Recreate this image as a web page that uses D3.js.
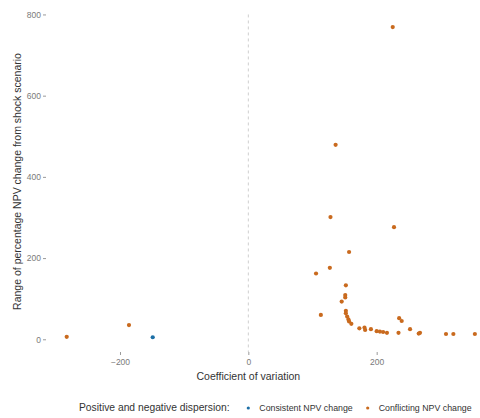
<!DOCTYPE html>
<html>
<head>
<meta charset="utf-8">
<script src="https://cdn.jsdelivr.net/npm/d3@7"></script>
<style>
  body { margin: 0; background: #fff; }
  text { font-family: "Liberation Sans", Arial, sans-serif; }
</style>
</head>
<body>
<svg id="chart" width="480" height="418"></svg>
<script>
// coefficient of variation / range of % NPV change, by group
const consistentCV = [-149];
const consistentRange = [5];

const conflictingCV = [-283, -186, 225, 136, 128, 227, 157, 127, 105.5, 152, 151, 151, 145.5,
  113, 152, 152, 154, 156, 157, 160.5, 173, 181, 182, 191, 200, 205, 210, 216,
  235, 239, 234, 252, 267.5, 265.5, 308, 319.5, 353];
const conflictingRange = [6, 35, 769, 479, 301, 276, 215, 176, 162, 133, 109, 103, 93,
  60, 70, 64, 56, 49, 44, 38, 27, 29, 23, 25, 20, 19, 18, 16,
  52, 45, 16, 25, 16, 14, 13, 13, 13];

const xTicks = [-200, 0, 200];
const yTicks = [0, 200, 400, 600, 800];

const groups = ["Consistent NPV change", "Conflicting NPV change"];
const colors = ["#1c6fa6", "#c96a1e"];

const points = consistentCV.map((d, i) => ({ cv: d, range: consistentRange[i], group: groups[0] }))
  .concat(conflictingCV.map((d, i) => ({ cv: d, range: conflictingRange[i], group: groups[1] })));

var svg = d3.select("#chart"),
    margin = {top: 11, right: 0, bottom: 66, left: 46},
    width = +svg.attr("width") - margin.left - margin.right,
    height = +svg.attr("height") - margin.top - margin.bottom;

var g = svg.append("g")
  .attr("transform", "translate(" + margin.left + "," + margin.top + ")");

var x = d3.scaleLinear().domain([-315.3, 361]).range([0, width]);
var y = d3.scaleLinear().domain([-31.3, 808.5]).range([height, 0]);
var color = d3.scaleOrdinal().domain(groups).range(colors);

// dashed reference line at 0
g.append("line")
  .attr("x1", x(0)).attr("x2", x(0))
  .attr("y1", y(800)).attr("y2", height)
  .attr("stroke", "#cfcfcf")
  .attr("stroke-dasharray", "3,3");

// axes
var xAxis = g.append("g")
  .attr("transform", "translate(0," + height + ")")
  .call(d3.axisBottom(x).tickValues(xTicks).tickSize(3).tickPadding(4));
var yAxis = g.append("g")
  .call(d3.axisLeft(y).tickValues(yTicks).tickSize(3).tickPadding(2));

[xAxis, yAxis].forEach(a => {
  a.select(".domain").remove();
  a.selectAll("line").attr("stroke", "#9a9a9a");
  a.selectAll("text").attr("fill", "#7a7a7a").attr("font-size", 8.5);
});

// points
g.selectAll("circle")
  .data(points)
  .enter()
  .append("circle")
  .attr("cx", d => x(d.cv))
  .attr("cy", d => y(d.range))
  .attr("r", 2.1)
  .attr("fill", d => color(d.group));

// axis titles
svg.append("text")
  .attr("x", margin.left + x(0))
  .attr("y", 380)
  .attr("text-anchor", "middle")
  .attr("font-size", 10.5)
  .attr("fill", "#333")
  .text("Coefficient of variation");

svg.append("text")
  .attr("transform", "translate(21," + (margin.top + height / 2) + ") rotate(-90)")
  .attr("text-anchor", "middle")
  .attr("font-size", 10.5)
  .attr("fill", "#333")
  .text("Range of percentage NPV change from shock scenario");

// legend
var legend = svg.append("g").attr("transform", "translate(0,411)");
legend.append("text")
  .attr("x", 79)
  .attr("font-size", 10.3)
  .attr("fill", "#333")
  .text("Positive and negative dispersion:");

var keyX = [248.3, 367.7];
groups.forEach((grp, i) => {
  legend.append("circle")
    .attr("cx", keyX[i]).attr("cy", -3).attr("r", 1.6)
    .attr("fill", color(grp));
  legend.append("text")
    .attr("x", keyX[i] + 11)
    .attr("font-size", 8.8)
    .attr("fill", "#333")
    .text(grp);
});
</script>
</body>
</html>
